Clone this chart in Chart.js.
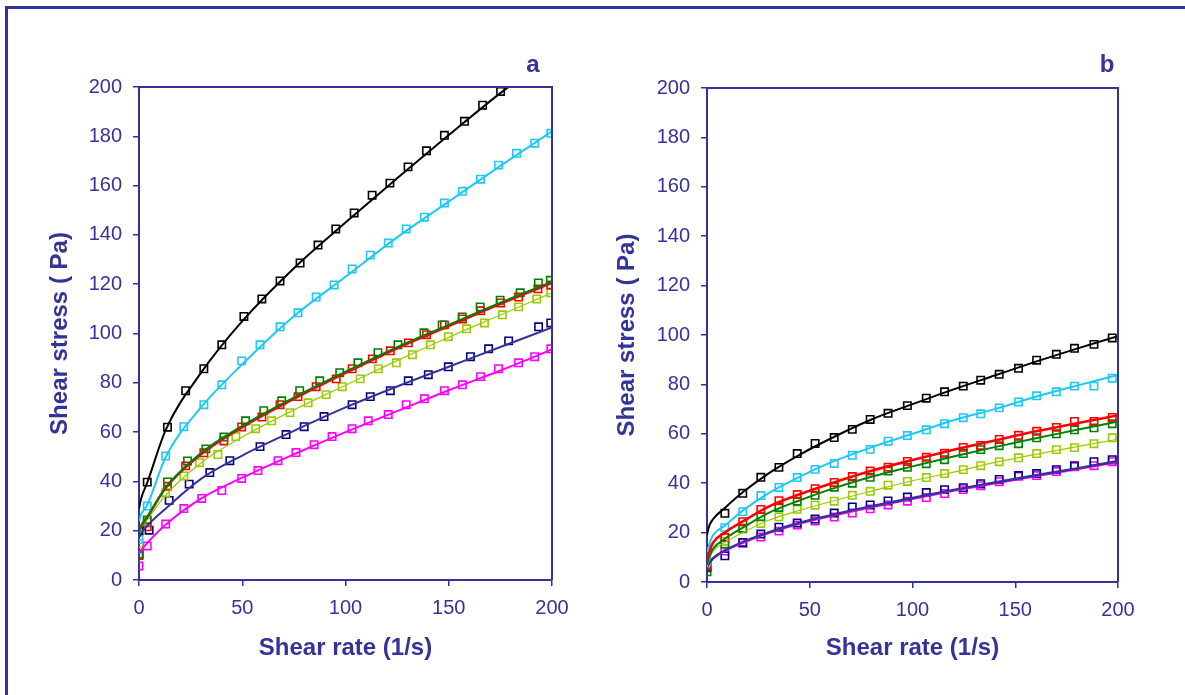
<!DOCTYPE html>
<html><head><meta charset="utf-8">
<script src="https://cdn.jsdelivr.net/npm/chart.js@4.4.1/dist/chart.umd.min.js"></script>
<style>
html,body{margin:0;padding:0;background:#fff;width:1185px;height:695px;overflow:hidden;}
#frame{position:absolute;left:5px;top:6px;width:2000px;height:2000px;border-left:3px solid #333399;border-top:3px solid #333399;}
#ca{position:absolute;left:0;top:0;}
#cb{position:absolute;left:600px;top:0;}
</style></head><body>
<div id="frame"></div>
<canvas id="ca" width="600" height="695"></canvas>
<canvas id="cb" width="585" height="695"></canvas>
<script>
// ---------- Panel a : measured points ----------
const rateA_black   = [0, 4, 13.8, 22.6, 31.4, 40.1, 50.8, 59.5, 68.3, 78, 86.7, 95.3, 104.2, 112.9, 121.5, 130.3, 139.2, 147.9, 157.6, 166.4, 175.1];
const stressA_black = [20, 39.7, 62, 76.8, 85.7, 95.4, 106.9, 114, 121.3, 128.6, 135.9, 142.4, 148.9, 156.1, 161, 167.6, 174.1, 180.4, 186.1, 192.6, 198.2];
const rateA_cyan    = [0, 4, 12.9, 21.7, 31.4, 40.1, 49.7, 58.6, 68.3, 77, 85.8, 94.5, 103.2, 112, 120.7, 129.4, 138.2, 147.9, 156.6, 165.4, 174.1, 182.8, 191.6, 199.4];
const stressA_cyan  = [16.5, 30, 50.3, 62.2, 71.1, 79.2, 88.9, 95.4, 102.7, 108.4, 114.8, 119.7, 126.2, 131.8, 136.7, 142.4, 147.2, 152.9, 157.7, 162.6, 168.3, 173.1, 177.2, 181.2];
const rateA_green   = [0, 4, 13.8, 23.5, 32.4, 41.1, 51.6, 60.4, 69.1, 77.8, 87.5, 97.2, 106, 115.7, 125.4, 138, 146.8, 156.5, 165.2, 174.9, 184.6, 193.4, 199.2];
const stressA_green = [10.5, 24.3, 39.8, 48.3, 53.2, 58, 64.6, 68.7, 72.7, 76.8, 80.8, 84.1, 88.1, 92.2, 95.4, 100.3, 103.5, 106.7, 110.8, 113.5, 116.5, 120.5, 121.6];
const rateA_red     = [0, 4, 13.8, 22.6, 31.4, 41.1, 49.7, 59.5, 68.3, 77, 85.8, 95.5, 103.2, 113, 121.7, 130.4, 139.2, 147.9, 156.6, 165.4, 175.1, 183.8, 193.2, 199.4];
const stressA_red   = [9.9, 21.6, 38, 46.3, 51.6, 56.4, 62.1, 66.1, 71.1, 74.4, 78.4, 81.6, 85.7, 89.7, 93, 96.2, 99.5, 103.5, 105.9, 109.2, 112.4, 114.8, 118.1, 119.7];
const rateA_lime    = [0, 4, 12.9, 21.7, 29.3, 38.2, 46.9, 56.5, 64.2, 73.1, 81.9, 90.6, 98.4, 107.1, 115.9, 124.6, 132.4, 141.1, 149.8, 158.6, 167.3, 176, 183.8, 192.6, 199.4];
const stressA_lime  = [14.8, 23.5, 35.4, 42.2, 47.6, 50.9, 58.2, 61.4, 64.6, 67.9, 71.9, 75.2, 78.4, 81.6, 85.7, 88.1, 91.4, 95.4, 98.7, 101.9, 104.3, 107.6, 110.8, 114, 116.5];
const rateA_navy    = [0, 4.9, 14.6, 24.3, 34.3, 44, 58.6, 71.2, 80, 89.6, 103.2, 112, 121.7, 130.4, 140.1, 149.8, 160.5, 169.3, 179, 193.5, 199.4];
const stressA_navy  = [10.5, 20.2, 32.3, 38.9, 43.6, 48.4, 54.1, 59, 62.2, 66.3, 71.1, 74.4, 76.8, 80.8, 83.3, 86.5, 90.6, 93.8, 97, 102.7, 104.3];
const rateA_magenta   = [0, 4, 12.9, 21.7, 30.4, 40.1, 49.7, 57.6, 67.3, 76, 84.8, 93.5, 103.2, 111, 120.7, 129.4, 138.2, 147.9, 156.6, 165.4, 174.1, 183.8, 191.6, 199.4];
const stressA_magenta = [5.7, 13.8, 22.7, 29, 33.1, 36.3, 41.2, 44.4, 48.4, 51.7, 54.9, 58.2, 61.4, 64.6, 67.1, 71.1, 73.5, 76.8, 79.2, 82.5, 85.7, 88.1, 90.6, 93.8];

// ---------- Panel a : fitted curves ----------
const fitRateA      = [0, 1, 4, 13, 30, 50, 75, 100, 125, 150, 175, 200];
const fitA_black    = [29, 33, 39.5, 61, 84, 105, 126.5, 145, 163, 180.5, 197.5, 213];
const fitA_cyan     = [24, 26.5, 30.5, 50, 70, 87.5, 107, 123, 139, 153.5, 168, 182];
const fitA_green    = [19, 21.5, 25.5, 37.5, 51.5, 62.5, 74, 84.5, 94.5, 103.5, 112.5, 121];
const fitA_red      = [20, 22, 25.5, 37.5, 51, 62, 73.5, 84, 94, 103, 112, 120.5];
const fitA_lime     = [19, 21, 24.5, 34.5, 47.5, 58, 69, 79, 89, 98.5, 107.5, 116.5];
const fitA_navy     = [17, 19, 22, 29, 41, 50.5, 60.5, 70, 78.5, 86.5, 94.5, 102.5];
const fitA_magenta  = [10.5, 12, 15, 22.5, 33, 41.5, 51, 60, 68.5, 77, 85, 93.5];

// ---------- Panel b : measured points ----------
const rateB           = [0, 8.7, 17.4, 26.2, 35, 43.9, 52.6, 61.9, 70.7, 79.4, 88.1, 97.5, 106.7, 115.6, 124.7, 133.2, 142.2, 151.6, 160.4, 170, 178.8, 188.3, 197.2];
const stressB_black   = [13.3, 27.8, 35.9, 42.4, 46.4, 52, 56.1, 58.5, 61.8, 65.8, 68.3, 71.4, 74.4, 77, 79.3, 81.7, 84.1, 86.5, 89.8, 92.2, 94.6, 96.2, 98.8];
const stressB_cyan    = [8.4, 22, 28.5, 35, 38.3, 42.3, 45.6, 48, 51.3, 53.7, 57, 59.3, 61.6, 64.1, 66.5, 68.1, 70.5, 72.9, 75.4, 77, 79.3, 79.3, 82.5];
const stressB_red     = [6.5, 18, 24.4, 29.4, 32.9, 35.4, 37.8, 40.3, 42.7, 44.9, 46.5, 48.8, 50.5, 52.1, 54.5, 55.3, 57.7, 59.4, 61, 62.6, 65, 65, 66.6];
const stressB_green   = [4.1, 15.3, 21.8, 26.4, 30.2, 32.7, 35.1, 38.4, 40, 42.4, 44.9, 46.4, 47.9, 49.5, 52, 53.6, 55.2, 56, 58.4, 60, 61.6, 62.4, 64.1];
const stressB_lime    = [7, 16.5, 21.4, 23.7, 26.4, 29.4, 31.1, 32.7, 35.1, 36.7, 39.2, 40.7, 42.3, 43.9, 45.5, 47.1, 48.7, 50.3, 52, 53.6, 54.4, 56, 58.4];
const stressB_navy    = [6, 10.6, 16, 19.4, 22.2, 23.9, 25.5, 27.9, 30.4, 31.2, 32.8, 34.4, 36.2, 37.4, 38.2, 39.8, 41.5, 43.1, 43.9, 45.5, 47.1, 48.7, 49.5];
const stressB_magenta = [5.8, 12.5, 15.7, 18.2, 20.6, 23.1, 24.7, 26.3, 27.9, 29.6, 31.2, 32.7, 34.2, 35.8, 37.4, 39, 40.6, 42.8, 43.1, 44.7, 46.7, 47.1, 48.7];

// ---------- Panel b : fitted curves ----------
const fitRateB      = [0, 1, 3, 8.7, 17.4, 30, 45, 60, 80, 100, 120, 140, 160, 180, 200];
const fitB_black    = [19, 22.5, 25.5, 30, 36.3, 44, 51.5, 58, 65.8, 72, 78, 83.6, 89.2, 94.5, 99.5];
const fitB_cyan     = [12, 15, 19, 22.8, 28.9, 36, 42.6, 48.3, 54.5, 60, 65.5, 70, 75, 79.5, 83.8];
const fitB_red      = [9, 12, 16, 20, 24.5, 30.5, 35.5, 39.8, 45, 49.4, 53.5, 57.3, 61, 64.3, 67.5];
const fitB_green    = [7, 10, 13.5, 17.5, 22, 28, 33, 37.5, 42.6, 46.8, 50.8, 54.6, 58.2, 61.6, 65];
const fitB_lime     = [6, 9, 12.5, 16, 20, 25, 29, 32.5, 36.8, 41, 44.5, 48.4, 51.7, 54.8, 57.8];
const fitB_navy     = [6, 7.5, 9.7, 12.8, 16.2, 20.1, 24, 27, 30.7, 34, 37.3, 40.3, 43.2, 46, 49];
const fitB_magenta  = [6, 7.5, 9.5, 12.5, 15.8, 19.8, 23.6, 26.6, 30.3, 33.6, 36.9, 39.9, 42.8, 45.6, 48.5];

const xTicks = [0, 50, 100, 150, 200];
const yTicks = [0, 20, 40, 60, 80, 100, 120, 140, 160, 180, 200];
const xTitle = 'Shear rate (1/s)';
const yTitle = 'Shear stress ( Pa)';

const BLUE = '#333399';
const FONT = '"Liberation Sans", Arial, sans-serif';

function pts(xs, ys) { return xs.map((x, i) => ({ x: x, y: ys[i] })); }

function markerSet(xs, ys, color) {
  return { data: pts(xs, ys), showLine: false, borderColor: color, pointBorderColor: color,
    pointBackgroundColor: 'rgba(0,0,0,0)', pointStyle: 'rect', pointRadius: 5.2, pointBorderWidth: 1.6 };
}
function fitSet(xs, ys, color, w) {
  return { data: pts(xs, ys), borderColor: color, borderWidth: w, pointRadius: 0, fill: false,
    cubicInterpolationMode: 'monotone' };
}

const plotFrame = {
  id: 'plotFrame',
  afterDatasetsDraw(chart) {
    const { ctx, chartArea: a } = chart;
    ctx.save();
    ctx.strokeStyle = BLUE; ctx.lineWidth = 2;
    ctx.beginPath(); ctx.moveTo(a.left, a.top); ctx.lineTo(a.right, a.top); ctx.lineTo(a.right, a.bottom);
    ctx.stroke(); ctx.restore();
  }
};
const panelLabel = {
  id: 'panelLabel',
  afterDraw(chart, args, o) {
    const c = chart.ctx;
    c.save(); c.font = 'bold 24px ' + FONT; c.fillStyle = BLUE;
    c.textAlign = 'center'; c.textBaseline = 'middle';
    c.fillText(o.text, o.x, o.y); c.restore();
  }
};

function makeChart(id, datasets, L) {
  return new Chart(document.getElementById(id), {
    type: 'line',
    data: { datasets: datasets },
    plugins: [plotFrame, panelLabel],
    options: {
      responsive: false, animation: false, events: [],
      layout: { padding: { left: L.padLeft, right: L.padRight, top: L.padTop, bottom: L.padBottom } },
      plugins: { legend: { display: false }, tooltip: { enabled: false },
        panelLabel: { text: L.label, x: L.labelX, y: 65 } },
      scales: {
        x: {
          type: 'linear', min: 0, max: 200,
          afterBuildTicks: s => { s.ticks = xTicks.map(v => ({ value: v })); },
          afterFit: s => { s.height = L.xHeight; },
          ticks: { color: BLUE, font: { family: FONT, size: 20 }, padding: 10 },
          grid: { drawOnChartArea: false, color: BLUE, tickLength: 6, lineWidth: 1.5 },
          border: { color: BLUE, width: 2 },
          title: { display: true, text: xTitle, color: BLUE, font: { family: FONT, size: 24, weight: 'bold' } }
        },
        y: {
          min: 0, max: 200,
          afterBuildTicks: s => { s.ticks = yTicks.map(v => ({ value: v })); },
          afterFit: s => { s.width = L.yWidth; },
          ticks: { color: BLUE, font: { family: FONT, size: 20 }, padding: 11 },
          grid: { drawOnChartArea: false, color: BLUE, tickLength: 6, lineWidth: 1.5 },
          border: { color: BLUE, width: 2 },
          title: { display: true, text: yTitle, color: BLUE, font: { family: FONT, size: 24, weight: 'bold' } }
        }
      }
    }
  });
}

const C = { black: '#000000', cyan: '#1ec8f5', green: '#008000', red: '#ff0000', lime: '#99cc00',
            navy: '#000080', navyLine: '#333399', magenta: '#ff00ff' };

makeChart('ca', [
  fitSet(fitRateA, fitA_black, C.black, 2),
  fitSet(fitRateA, fitA_cyan, C.cyan, 2),
  fitSet(fitRateA, fitA_green, C.green, 2),
  fitSet(fitRateA, fitA_red, C.red, 2.6),
  fitSet(fitRateA, fitA_lime, C.lime, 1.2),
  fitSet(fitRateA, fitA_navy, C.navyLine, 2),
  fitSet(fitRateA, fitA_magenta, C.magenta, 2),
  markerSet(rateA_black, stressA_black, C.black),
  markerSet(rateA_cyan, stressA_cyan, C.cyan),
  markerSet(rateA_green, stressA_green, C.green),
  markerSet(rateA_red, stressA_red, C.red),
  markerSet(rateA_lime, stressA_lime, C.lime),
  markerSet(rateA_navy, stressA_navy, C.navy),
  markerSet(rateA_magenta, stressA_magenta, C.magenta)
], { padLeft: 42, padRight: 48, padTop: 87, padBottom: 28.6, xHeight: 86.4, yWidth: 97, label: 'a', labelX: 533 });

makeChart('cb', [
  fitSet(fitRateB, fitB_black, C.black, 2),
  fitSet(fitRateB, fitB_cyan, C.cyan, 2),
  fitSet(fitRateB, fitB_red, C.red, 2.6),
  fitSet(fitRateB, fitB_green, C.green, 2),
  fitSet(fitRateB, fitB_lime, C.lime, 1.2),
  fitSet(fitRateB, fitB_navy, C.navyLine, 2.4),
  fitSet(fitRateB, fitB_magenta, C.magenta, 2),
  markerSet(rateB, stressB_black, C.black),
  markerSet(rateB, stressB_cyan, C.cyan),
  markerSet(rateB, stressB_red, C.red),
  markerSet(rateB, stressB_green, C.green),
  markerSet(rateB, stressB_lime, C.lime),
  markerSet(rateB, stressB_navy, C.navy),
  markerSet(rateB, stressB_magenta, C.magenta)
], { padLeft: 8.6, padRight: 67, padTop: 88, padBottom: 28.6, xHeight: 84.4, yWidth: 98.4, label: 'b', labelX: 507 });
</script>
</body></html>
